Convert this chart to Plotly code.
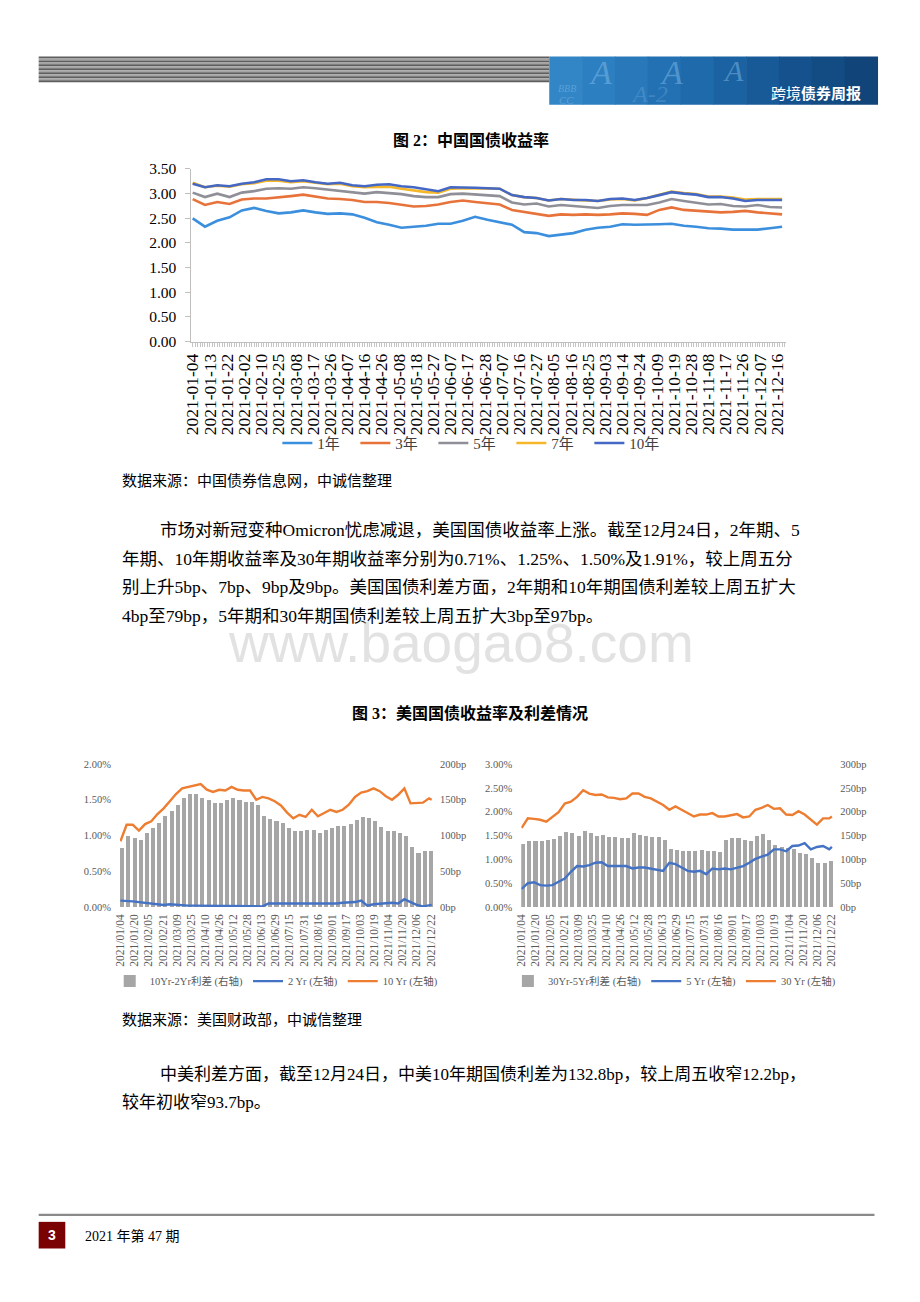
import pandas as pd
import plotly.graph_objects as go

# The browser adds an 8px body margin, so the figure is sized to fill the
# 920x1302 window exactly inside that margin; page pixels are mapped below.
PAGE_MARGIN = 8
W, H = 920 - 2 * PAGE_MARGIN, 1302 - 2 * PAGE_MARGIN
SERIF = "Liberation Serif, Noto Sans CJK SC, serif"
SANS = "Liberation Sans, Noto Sans CJK SC, sans-serif"


def fx(px):
    return (px - PAGE_MARGIN) / W


def fy(py):
    return 1 - (py - PAGE_MARGIN) / H


# ---------------- Figure 2: China government bond yields ----------------
cn_holidays = ["2021-02-11", "2021-02-12", "2021-02-15", "2021-02-16", "2021-02-17",
               "2021-04-05", "2021-05-03", "2021-05-04", "2021-05-05", "2021-06-14",
               "2021-09-20", "2021-09-21", "2021-10-01", "2021-10-04", "2021-10-05",
               "2021-10-06", "2021-10-07"]
cn_makeup_days = ["2021-02-07", "2021-02-20", "2021-04-25", "2021-05-08",
                  "2021-09-18", "2021-09-26", "2021-10-09"]
cn_first_day = "2021-01-04"
cn_last_day = "2021-12-21"
cn_sample_step = 5

cn_tick_labels = ["2021-01-04", "2021-01-13", "2021-01-22", "2021-02-02", "2021-02-10",
                  "2021-02-25", "2021-03-08", "2021-03-17", "2021-03-26", "2021-04-07",
                  "2021-04-16", "2021-04-26", "2021-05-08", "2021-05-18", "2021-05-27",
                  "2021-06-07", "2021-06-17", "2021-06-28", "2021-07-07", "2021-07-16",
                  "2021-07-27", "2021-08-05", "2021-08-16", "2021-08-25", "2021-09-03",
                  "2021-09-14", "2021-09-24", "2021-10-09", "2021-10-19", "2021-10-28",
                  "2021-11-08", "2021-11-17", "2021-11-26", "2021-12-07", "2021-12-16"]

cn_series_names = ["1年", "3年", "5年", "7年", "10年"]

cn_1y = [2.50, 2.33, 2.45, 2.52, 2.66, 2.71, 2.65, 2.60, 2.62, 2.66,
         2.62, 2.59, 2.60, 2.58, 2.51, 2.42, 2.37, 2.31, 2.33, 2.35,
         2.39, 2.39, 2.45, 2.53, 2.47, 2.42, 2.37, 2.22, 2.20, 2.14,
         2.17, 2.20, 2.27, 2.31, 2.33, 2.38, 2.37, 2.37, 2.38, 2.39,
         2.35, 2.33, 2.30, 2.29, 2.27, 2.27, 2.27, 2.30, 2.33]
cn_3y = [2.89, 2.77, 2.83, 2.79, 2.88, 2.90, 2.90, 2.92, 2.95, 2.98,
         2.94, 2.90, 2.89, 2.87, 2.83, 2.83, 2.81, 2.78, 2.74, 2.75,
         2.78, 2.83, 2.86, 2.83, 2.80, 2.78, 2.67, 2.63, 2.60, 2.55,
         2.58, 2.57, 2.58, 2.57, 2.58, 2.60, 2.59, 2.57, 2.67, 2.72,
         2.67, 2.65, 2.63, 2.62, 2.63, 2.65, 2.62, 2.60, 2.58]
cn_5y = [3.02, 2.93, 3.00, 2.93, 3.02, 3.05, 3.10, 3.11, 3.10, 3.13,
         3.11, 3.08, 3.06, 3.03, 3.00, 3.03, 3.01, 2.99, 2.95, 2.93,
         2.93, 2.99, 3.00, 2.98, 2.97, 2.95, 2.82, 2.78, 2.80, 2.74,
         2.77, 2.75, 2.73, 2.71, 2.75, 2.77, 2.77, 2.77, 2.82, 2.89,
         2.85, 2.81, 2.78, 2.79, 2.75, 2.74, 2.77, 2.73, 2.72]
cn_7y = [3.22, 3.13, 3.16, 3.14, 3.19, 3.21, 3.26, 3.26, 3.23, 3.25,
         3.22, 3.19, 3.20, 3.15, 3.13, 3.14, 3.14, 3.10, 3.07, 3.03,
         3.02, 3.10, 3.11, 3.11, 3.11, 3.10, 2.97, 2.93, 2.91, 2.86,
         2.89, 2.87, 2.86, 2.85, 2.88, 2.89, 2.86, 2.91, 2.98, 3.04,
         3.01, 2.99, 2.94, 2.94, 2.92, 2.88, 2.89, 2.89, 2.89]
cn_10y = [3.20, 3.13, 3.17, 3.15, 3.20, 3.23, 3.29, 3.29, 3.25, 3.27,
          3.23, 3.20, 3.22, 3.17, 3.15, 3.18, 3.19, 3.15, 3.13, 3.09,
          3.05, 3.13, 3.13, 3.12, 3.11, 3.10, 2.97, 2.93, 2.91, 2.86,
          2.89, 2.87, 2.87, 2.85, 2.89, 2.90, 2.87, 2.91, 2.97, 3.03,
          3.00, 2.98, 2.93, 2.93, 2.90, 2.85, 2.87, 2.87, 2.87]
cn_colors = ["#3b8fdd", "#e7733b", "#8f8f98", "#f5b72a", "#4468c4"]

# ---------------- Figure 3: US Treasury yields and spreads ----------------
us_first_week = "2021-01-04"
us_last_obs = "2021-12-23"
us_tick_labels = ["2021/01/04", "2021/01/20", "2021/02/05", "2021/02/21", "2021/03/09",
                  "2021/03/25", "2021/04/10", "2021/04/26", "2021/05/12", "2021/05/28",
                  "2021/06/13", "2021/06/29", "2021/07/15", "2021/07/31", "2021/08/16",
                  "2021/09/01", "2021/09/17", "2021/10/03", "2021/10/19", "2021/11/04",
                  "2021/11/20", "2021/12/06", "2021/12/22"]

# weekly spread bars (bp)
us_spread_10_2 = [83, 100, 97, 94, 103, 110, 118, 127, 134, 143,
                  152, 158, 158, 153, 150, 145, 146, 149, 152, 149,
                  147, 147, 143, 128, 123, 121, 118, 111, 107, 106,
                  108, 108, 104, 108, 110, 113, 113, 116, 122, 126,
                  125, 120, 112, 107, 106, 104, 100, 84, 76, 78,
                  78]
us_spread_30_5 = [132, 138, 138, 138, 140, 142, 150, 158, 156, 150,
                  160, 155, 150, 152, 148, 147, 145, 144, 155, 152,
                  150, 148, 146, 140, 122, 120, 118, 118, 118, 120,
                  118, 117, 115, 140, 145, 145, 140, 138, 150, 154,
                  140, 131, 126, 124, 121, 114, 112, 103, 93, 93,
                  97]
# weekly yields (%) plus last observation
us_2y = [0.09, 0.09, 0.08, 0.07, 0.06, 0.04, 0.03, 0.03, 0.04, 0.03,
         0.02, 0.02, 0.02, 0.02, 0.02, 0.01, 0.01, 0.01, 0.01, 0.01,
         0.01, 0.01, 0.01, 0.01, 0.05, 0.05, 0.05, 0.05, 0.05, 0.05,
         0.05, 0.05, 0.05, 0.04, 0.05, 0.05, 0.06, 0.06, 0.07, 0.09,
         0.02, 0.04, 0.05, 0.05, 0.06, 0.05, 0.11, 0.07, 0.03, 0.01,
         0.02, 0.03]
us_10y = [0.92, 1.15, 1.15, 1.07, 1.16, 1.20, 1.30, 1.38, 1.48, 1.58,
          1.66, 1.68, 1.70, 1.72, 1.64, 1.61, 1.64, 1.63, 1.68, 1.64,
          1.63, 1.63, 1.50, 1.54, 1.52, 1.48, 1.42, 1.32, 1.24, 1.29,
          1.26, 1.36, 1.27, 1.31, 1.36, 1.33, 1.36, 1.43, 1.54, 1.60,
          1.62, 1.66, 1.62, 1.55, 1.50, 1.57, 1.66, 1.45, 1.45, 1.46,
          1.52, 1.50]
us_5y = [0.38, 0.50, 0.52, 0.46, 0.45, 0.46, 0.53, 0.60, 0.74, 0.86,
         0.85, 0.88, 0.93, 0.94, 0.86, 0.86, 0.85, 0.86, 0.81, 0.83,
         0.83, 0.81, 0.78, 0.76, 0.93, 0.90, 0.83, 0.76, 0.74, 0.76,
         0.69, 0.81, 0.79, 0.81, 0.79, 0.83, 0.86, 0.93, 1.01, 1.06,
         1.10, 1.21, 1.21, 1.17, 1.28, 1.29, 1.34, 1.21, 1.26, 1.28,
         1.21, 1.26]
us_30y = [1.66, 1.86, 1.85, 1.83, 1.79, 1.90, 1.99, 2.17, 2.21, 2.31,
          2.45, 2.38, 2.35, 2.36, 2.30, 2.29, 2.26, 2.28, 2.38, 2.38,
          2.31, 2.28, 2.21, 2.14, 2.04, 2.11, 2.04, 1.97, 1.90, 1.94,
          1.94, 1.97, 1.90, 1.90, 1.92, 1.95, 1.88, 1.90, 2.04, 2.08,
          2.14, 2.06, 2.07, 1.94, 1.93, 2.01, 1.94, 1.83, 1.73, 1.86,
          1.86, 1.90]

BAR_GRAY = "#a6a6a6"
US_BLUE = "#4472c4"
US_ORANGE = "#ed7d31"
AXIS_GRAY = "#595959"

# ---------------- derived categories ----------------
weekdays = pd.bdate_range(cn_first_day, cn_last_day).strftime("%Y-%m-%d").tolist()
cn_days = sorted((set(weekdays) - set(cn_holidays)) | set(cn_makeup_days))
cn_sample_days = cn_days[::cn_sample_step]
cn_ticktext = [d if d in cn_tick_labels else "" for d in cn_days]

us_weeks = pd.date_range(us_first_week, periods=len(us_spread_10_2), freq="7D")
us_week_dates = us_weeks.strftime("%Y-%m-%d").tolist()
us_line_dates = us_week_dates + [us_last_obs]
us_tick_vals = [s.replace("/", "-") for s in us_tick_labels]
DAY_MS = 24 * 3600 * 1000

fig = go.Figure()

for name, vals, col in zip(cn_series_names, [cn_1y, cn_3y, cn_5y, cn_7y, cn_10y], cn_colors):
    fig.add_trace(go.Scatter(x=cn_sample_days[:len(vals)], y=vals, name=name, mode="lines",
                             line=dict(color=col, width=2.6), xaxis="x", yaxis="y",
                             legend="legend"))

# left US chart
fig.add_trace(go.Bar(x=us_week_dates, y=us_spread_10_2, name="10Yr-2Yr利差 (右轴)",
                     marker=dict(color=BAR_GRAY, line=dict(width=0)),
                     width=4.6 * DAY_MS, offset=-0.3 * DAY_MS,
                     xaxis="x2", yaxis="y2", legend="legend2"))
fig.add_trace(go.Scatter(x=us_line_dates, y=us_2y, name="2 Yr (左轴)", mode="lines",
                         line=dict(color=US_BLUE, width=2.4), xaxis="x2", yaxis="y3",
                         legend="legend2"))
fig.add_trace(go.Scatter(x=us_line_dates, y=us_10y, name="10 Yr (左轴)", mode="lines",
                         line=dict(color=US_ORANGE, width=2.4), xaxis="x2", yaxis="y3",
                         legend="legend2"))

# right US chart
fig.add_trace(go.Bar(x=us_week_dates, y=us_spread_30_5, name="30Yr-5Yr利差 (右轴)",
                     marker=dict(color=BAR_GRAY, line=dict(width=0)),
                     width=4.6 * DAY_MS, offset=-0.3 * DAY_MS,
                     xaxis="x3", yaxis="y4", legend="legend3"))
fig.add_trace(go.Scatter(x=us_line_dates, y=us_5y, name="5 Yr (左轴)", mode="lines",
                         line=dict(color=US_BLUE, width=2.4), xaxis="x3", yaxis="y5",
                         legend="legend3"))
fig.add_trace(go.Scatter(x=us_line_dates, y=us_30y, name="30 Yr (左轴)", mode="lines",
                         line=dict(color=US_ORANGE, width=2.4), xaxis="x3", yaxis="y5",
                         legend="legend3"))

us_xrange = ["2021-01-03 12:00", "2021-12-24 12:00"]
small_tick = dict(size=10.5, family=SERIF, color=AXIS_GRAY)
date_tick = dict(size=11.5, family=SERIF, color=AXIS_GRAY)

fig.update_layout(
    width=W, height=H, autosize=False,
    margin=dict(l=0, r=0, t=0, b=0),
    paper_bgcolor="white", plot_bgcolor="rgba(0,0,0,0)",
    font=dict(family=SERIF, color="#000000"),
    bargap=0,
    xaxis=dict(domain=[fx(185), fx(788)], anchor="y", type="category",
               categoryorder="array", categoryarray=cn_days,
               range=[-0.5, len(cn_days) - 0.5],
               tickmode="array", tickvals=cn_days, ticktext=cn_ticktext,
               tickangle=-90, ticks="outside", ticklen=4, tickcolor="#c4c4c4",
               showline=True, linecolor="#bfbfbf", linewidth=1,
               showgrid=False, zeroline=False,
               tickfont=dict(size=17.5, family=SERIF, color="#000000")),
    yaxis=dict(domain=[fy(337), fy(162)], anchor="x", range=[0, 3.5],
               tick0=0, dtick=0.5, tickformat=".2f",
               showline=True, linecolor="#bfbfbf", linewidth=1,
               ticks="outside", ticklen=5, tickcolor="#bfbfbf",
               showgrid=False, zeroline=False, ticklabelstandoff=6,
               tickfont=dict(size=15.5, family=SERIF, color="#000000")),
    xaxis2=dict(domain=[fx(112.5), fx(430.1)], anchor="y2", type="date",
                range=us_xrange, tickmode="array", tickvals=us_tick_vals,
                ticktext=us_tick_labels, tickangle=-90, showline=False,
                showgrid=False, zeroline=False, ticks="", ticklabelstandoff=4,
                tickfont=date_tick),
    yaxis2=dict(domain=[fy(910), fy(765)], anchor="x2", side="right",
                range=[0, 200], tick0=0, dtick=50, ticksuffix="bp",
                showgrid=False, zeroline=False, showline=False,
                ticklabelstandoff=6, tickfont=small_tick),
    yaxis3=dict(anchor="x2", overlaying="y2", side="left",
                range=[0, 2], tick0=0, dtick=0.5, tickformat=".2f", ticksuffix="%",
                showgrid=False, zeroline=False, showline=False,
                ticklabelstandoff=8, tickfont=small_tick),
    xaxis3=dict(domain=[fx(519.6), fx(836.1)], anchor="y4", type="date",
                range=us_xrange, tickmode="array", tickvals=us_tick_vals,
                ticktext=us_tick_labels, tickangle=-90, showline=False,
                showgrid=False, zeroline=False, ticks="", ticklabelstandoff=4,
                tickfont=date_tick),
    yaxis4=dict(domain=[fy(910), fy(765)], anchor="x3", side="right",
                range=[0, 300], tick0=0, dtick=50, ticksuffix="bp",
                showgrid=False, zeroline=False, showline=False,
                ticklabelstandoff=6, tickfont=small_tick),
    yaxis5=dict(anchor="x3", overlaying="y4", side="left",
                range=[0, 3], tick0=0, dtick=0.5, tickformat=".2f", ticksuffix="%",
                showgrid=False, zeroline=False, showline=False,
                ticklabelstandoff=8, tickfont=small_tick),
    legend=dict(orientation="h", x=fx(470), xanchor="center", y=fy(440), yanchor="middle",
                font=dict(size=15, family=SERIF, color="#404040"),
                bgcolor="rgba(0,0,0,0)", itemwidth=30, entrywidth=33),
    legend2=dict(orientation="h", x=fx(271), xanchor="center", y=fy(985), yanchor="middle",
                 font=dict(size=10.5, family=SERIF, color=AXIS_GRAY),
                 bgcolor="rgba(0,0,0,0)", itemwidth=30),
    legend3=dict(orientation="h", x=fx(675), xanchor="center", y=fy(985), yanchor="middle",
                 font=dict(size=10.5, family=SERIF, color=AXIS_GRAY),
                 bgcolor="rgba(0,0,0,0)", itemwidth=30),
)

# ---------------- page decoration ----------------
shapes = []
# striped gray header bar
for i in range(13):
    y0 = 48 + 2 * i
    shapes.append(dict(type="rect", xref="paper", yref="paper",
                       x0=fx(30), x1=fx(548), y0=fy(y0 + 2), y1=fy(y0),
                       fillcolor="#5e5e5e" if i % 2 == 0 else "#a3a3a3",
                       line=dict(width=0), layer="below"))
# blue banner with gradient strips
banner_cols = ["#3286c6", "#2c7fc0", "#2878ba", "#2371b3", "#1f6aab", "#1b62a2",
               "#185a98", "#15528d", "#134b83", "#11457a"]
bx0, bx1 = 548, 881
step = (bx1 - bx0) / len(banner_cols)
for i, c in enumerate(banner_cols):
    shapes.append(dict(type="rect", xref="paper", yref="paper",
                       x0=fx(bx0 + i * step), x1=fx(bx0 + (i + 1) * step + 0.6),
                       y0=fy(97), y1=fy(48), fillcolor=c, line=dict(width=0), layer="below"))
# footer rule and page-number box
shapes.append(dict(type="line", xref="paper", yref="paper", x0=fx(30), x1=fx(878),
                   y0=fy(1222), y1=fy(1222), line=dict(color="#8a8a8a", width=2.2)))
shapes.append(dict(type="rect", xref="paper", yref="paper", x0=fx(30), x1=fx(57),
                   y0=fy(1256), y1=fy(1229), fillcolor="#7b0202", line=dict(width=0)))
fig.update_layout(shapes=shapes)

annotations = []


def txt(text, x, y, size, anchor="left", color="#000000", family=SERIF, **kw):
    annotations.append(dict(text=text, x=fx(x), y=fy(y), xref="paper", yref="paper",
                            xanchor=anchor, yanchor="middle", showarrow=False,
                            font=dict(size=size, color=color, family=family), **kw))


# banner decorations
deco = "rgba(140,195,240,0.45)"
txt("<i>A</i>", 600, 64, 34, "center", deco)
txt("<i>A</i>", 672, 64, 34, "center", deco)
txt("<i>A</i>", 735, 62, 30, "center", deco)
txt("<i>BBB</i>", 566, 80, 10, "center", deco)
txt("<i>A-2</i>", 650, 86, 24, "center", "rgba(100,160,215,0.45)")
txt("<i>CC</i>", 566, 92, 11, "center", deco)
txt("跨境<b>债券周报</b>", 866, 86, 15, "right", "#ffffff", SANS)

# titles, sources and body text
txt("<b>图 2：中国国债收益率</b>", 469, 133, 16, "center")
txt("数据来源：中国债券信息网，中诚信整理", 113, 478, 15)
body = ["市场对新冠变种Omicron忧虑减退，美国国债收益率上涨。截至12月24日，2年期、5",
        "年期、10年期收益率及30年期收益率分别为0.71%、1.25%、1.50%及1.91%，较上周五分",
        "别上升5bp、7bp、9bp及9bp。美国国债利差方面，2年期和10年期国债利差较上周五扩大",
        "4bp至79bp，5年期和30年期国债利差较上周五扩大3bp至97bp。"]
body_x = [151, 113, 113, 113]
body_y = [528, 557, 586, 615]
for t, bx, by in zip(body, body_x, body_y):
    txt(t, bx, by, 17.5)

txt("www.baogao8.com", 458, 642, 55, "center", "rgba(185,185,185,0.42)", SANS)

txt("<b>图 3：美国国债收益率及利差情况</b>", 468, 713, 16, "center")
txt("数据来源：美国财政部，中诚信整理", 113, 1024, 15)
txt("中美利差方面，截至12月24日，中美10年期国债利差为132.8bp，较上周五收窄12.2bp，", 151, 1080, 17)
txt("较年初收窄93.7bp。", 113, 1108, 17)

txt("<b>3</b>", 43.5, 1242, 14, "center", "#ffffff", SANS)
txt("2021 年第 47 期", 75, 1243, 14)

fig.update_layout(annotations=annotations)

fig.write_html("out.html", config={"displayModeBar": False})
